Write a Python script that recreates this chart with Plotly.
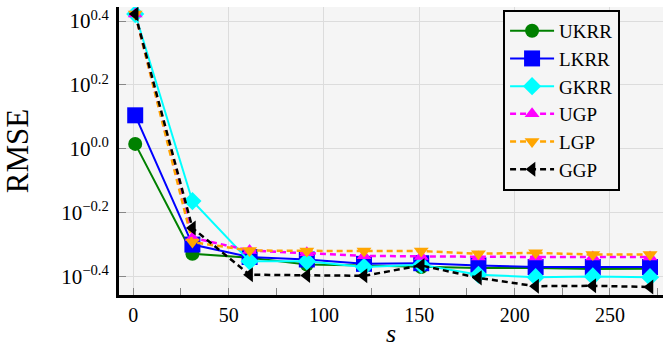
import plotly.graph_objects as go

s_vals = [1, 31, 61, 91, 121, 151, 181, 211, 241, 271]

ukrr = [1.037, 0.470, 0.457, 0.435, 0.432, 0.427, 0.424, 0.424, 0.421, 0.422]
lkrr = [1.274, 0.502, 0.459, 0.451, 0.437, 0.439, 0.432, 0.427, 0.427, 0.427]
gkrr = [2.642, 0.687, 0.445, 0.445, 0.427, 0.434, 0.404, 0.397, 0.399, 0.397]
ugp = [2.642, 0.527, 0.481, 0.473, 0.463, 0.461, 0.459, 0.459, 0.459, 0.459]
lgp = [2.642, 0.511, 0.481, 0.479, 0.479, 0.479, 0.470, 0.473, 0.467, 0.467]
ggp = [2.642, 0.566, 0.404, 0.402, 0.401, 0.432, 0.395, 0.372, 0.373, 0.370]

series_names = ["UKRR", "LKRR", "GKRR", "UGP", "LGP", "GGP"]
y_tick_vals = [10 ** -0.4, 10 ** -0.2, 10 ** 0.0, 10 ** 0.2, 10 ** 0.4]
y_tick_text = ["10<sup>\u22120.4</sup>", "10<sup>\u22120.2</sup>", "10<sup>0.0</sup>",
               "10<sup>0.2</sup>", "10<sup>0.4</sup>"]
x_tick_vals = [0, 50, 100, 150, 200, 250]
x_minor_vals = [25, 75, 125, 175, 225, 275]

FONT = "Liberation Serif, Times New Roman, serif"

styles = [
    dict(color="green", symbol="circle", size=14, dash="solid", width=2),
    dict(color="blue", symbol="square", size=16, dash="solid", width=2),
    dict(color="cyan", symbol="diamond", size=14, dash="solid", width=2),
    dict(color="magenta", symbol="triangle-up", size=13, dash="6px,4px", width=2.5),
    dict(color="orange", symbol="triangle-down", size=13, dash="6px,4px", width=2.5),
    dict(color="black", symbol="triangle-left", size=13, dash="6px,4px", width=2.5),
]

fig = go.Figure()
for name, ys, st in zip(series_names, [ukrr, lkrr, gkrr, ugp, lgp, ggp], styles):
    fig.add_trace(go.Scatter(
        x=s_vals, y=ys, name=name, mode="lines+markers",
        line=dict(color=st["color"], width=st["width"], dash=st["dash"]),
        marker=dict(symbol=st["symbol"], size=st["size"], color=st["color"],
                    line=dict(width=0)),
    ))

fig.update_layout(
    template="none",
    width=663, height=348,
    margin=dict(l=119, r=0, t=7, b=53, autoexpand=False),
    paper_bgcolor="white",
    plot_bgcolor="#f5f5f5",
    font=dict(family=FONT, color="black", size=20),
    showlegend=True,
    legend=dict(
        x=0.706, y=0.99, xanchor="left", yanchor="top",
        bgcolor="#f5f5f5", bordercolor="black", borderwidth=2,
        font=dict(family=FONT, size=19, color="black"),
        itemwidth=44,
        entrywidth=111, entrywidthmode="pixels",
        tracegroupgap=0,
    ),
    xaxis=dict(
        range=[-7.5, 277.8],
        tickmode="array", tickvals=x_tick_vals,
        ticks="inside", ticklen=7, tickcolor="#888", tickwidth=1,
        showgrid=True, gridcolor="#dcdcdc", gridwidth=1,
        showline=True, linecolor="black", linewidth=3,
        zeroline=False, automargin=False,
        minor=dict(tickmode="array", tickvals=x_minor_vals, ticks="inside",
                   ticklen=7, tickcolor="#888", showgrid=False),
        tickfont=dict(family=FONT, size=20, color="black"),
        title=dict(text="<i>s</i>", font=dict(family=FONT, size=26, color="black"), standoff=17),
    ),
    yaxis=dict(
        type="log",
        range=[-0.457, 0.444],
        tickmode="array", tickvals=y_tick_vals, ticktext=y_tick_text,
        ticks="inside", ticklen=7, tickcolor="#888", tickwidth=1,
        showgrid=True, gridcolor="#dcdcdc", gridwidth=1,
        showline=True, linecolor="black", linewidth=3,
        zeroline=False, automargin=False,
        ticklabelstandoff=3,
        tickfont=dict(family=FONT, size=21, color="black"),
        title=dict(text="RMSE", font=dict(family=FONT, size=31, color="black"), standoff=30),
    ),
)

fig.write_html("out.html", config={"displayModeBar": False},
               post_script="document.body.style.margin='0px';")
